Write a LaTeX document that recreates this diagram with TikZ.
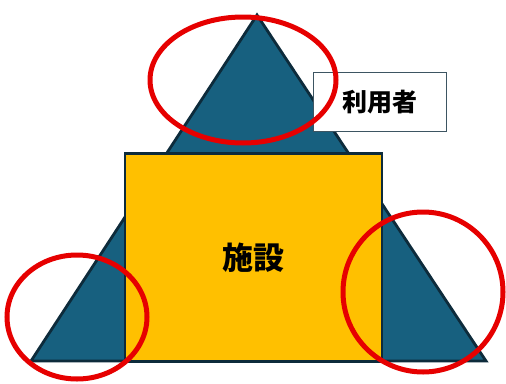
\documentclass[tikz,border=0pt]{standalone}
\usepackage{fontspec}
\newfontfamily\cjk{Noto Sans CJK JP}
\definecolor{teal}{HTML}{17607F}
\definecolor{edge}{HTML}{0D2B3B}
\definecolor{gold}{HTML}{FFC000}
\definecolor{ring}{HTML}{E60000}
\begin{document}
\begin{tikzpicture}[x=1pt,y=-1pt,
  facility/.style={draw=edge,line width=2.5pt,fill=gold,minimum width=257pt,minimum height=208pt,inner sep=0pt,font=\cjk\bfseries\fontsize{31}{31}\selectfont},
  userbox/.style={draw=edge!80,line width=1pt,fill=white,minimum width=133pt,minimum height=59pt,inner sep=0pt,font=\cjk\bfseries\fontsize{25}{25}\selectfont},
  circ/.style={draw=ring,line width=5pt}]
\useasboundingbox (0,0) rectangle (506,383);
\coordinate (apex) at (257,15);
\coordinate (bl) at (31,361);
\coordinate (br) at (486,361);
\draw[edge,line width=2.8pt,fill=teal,line join=miter] (apex) -- (br) -- (bl) -- cycle;
\node[facility] (fac) at (253.5,257.5) {施設};
\node[userbox] (user) at (380,102) {利用者};
\draw[circ] (243,80) ellipse [x radius=93, y radius=63];
\draw[circ] (77,317) ellipse [x radius=70, y radius=62];
\draw[circ] (423,292) ellipse [x radius=80, y radius=80];
\end{tikzpicture}
\end{document}
